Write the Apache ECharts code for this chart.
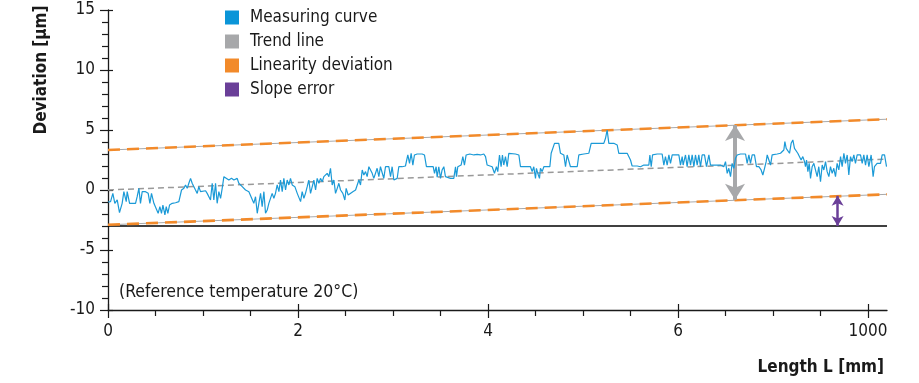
<!DOCTYPE html>
<html>
<head>
<meta charset="utf-8">
<script src="https://cdn.jsdelivr.net/npm/echarts@6/dist/echarts.min.js"></script>
<style>
  html, body { margin: 0; padding: 0; background: #fff; }
  #chart { width: 919px; height: 383px; }
</style>
</head>
<body>
<div id="chart"></div>
<script>
const FONT = '"Liberation Sans Narrow", "DejaVu Sans Condensed", "Noto Sans", sans-serif';

const xTickValues = [0, 2, 4, 6, 8];
const xTickLabels = ['0', '2', '4', '6', '1000'];
const xMinorTicks = [0.5, 1, 1.5, 2.5, 3, 3.5, 4.5, 5, 5.5, 6.5, 7, 7.5];
const legendNames = ['Measuring curve', 'Trend line', 'Linearity deviation', 'Slope error'];

const trendLine = [[0, 0], [8.2, 2.58]];
const upperLimit = [[0, 3.33], [8.2, 5.9]];
const lowerLimit = [[0, -2.9], [8.2, -0.36]];
const baseLine = [[0, -3], [8.2, -3]];
const linearityArrow = [[6.6, 5.41], [6.6, -0.82]];
const slopeArrow = [[7.68, -0.48], [7.68, -3]];

const measuringCurve = [
  [0, -1.0], [0.009, -1.11], [0.027, -0.97], [0.051, -0.28], [0.072, -1.11], [0.097, -0.83], [0.121, -1.89],
  [0.149, -1.11], [0.167, -0.14], [0.192, -0.97], [0.202, -0.14], [0.227, -1.11], [0.29, -1.11], [0.307, -0.56],
  [0.325, 0.14], [0.342, -1.11], [0.36, -0.14], [0.377, -0.28], [0.395, -0.14], [0.423, -0.28], [0.441, -1.11],
  [0.458, -0.28], [0.483, -1.11], [0.5, -1.11], [0.528, -1.94], [0.546, -1.39], [0.563, -1.94], [0.578, -1.25],
  [0.599, -2.08], [0.613, -1.39], [0.63, -1.94], [0.648, -1.25], [0.676, -1.11], [0.711, -1.06], [0.746, -0.97],
  [0.774, 0.0], [0.799, 0.14], [0.816, 0.42], [0.834, 0.14], [0.851, 0.56], [0.869, 0.97], [0.886, 0.56],
  [0.904, 0.42], [0.921, 0.0], [0.939, -0.28], [0.956, 0.28], [0.974, -0.14], [1.027, -0.06], [1.044, -0.28],
  [1.062, -0.14], [1.079, -0.83], [1.097, 0.56], [1.114, -0.83], [1.132, 0.56], [1.149, -1.11], [1.167, -0.14],
  [1.185, -0.69], [1.202, 0.14], [1.22, 1.11], [1.237, 0.97], [1.272, 0.83], [1.3, 0.97], [1.325, 0.83],
  [1.36, 0.97], [1.377, 0.56], [1.395, 0.69], [1.413, 0.28], [1.43, 0.42], [1.448, 0.0], [1.483, -0.14],
  [1.5, -0.14], [1.535, -1.11], [1.553, -0.56], [1.571, -1.94], [1.588, -1.11], [1.606, -0.28], [1.623, -1.39],
  [1.641, -0.14], [1.658, -1.94], [1.676, -1.67], [1.693, -1.11], [1.728, -0.28], [1.746, -0.69], [1.763, -0.28],
  [1.781, 0.42], [1.799, -0.14], [1.816, 0.83], [1.834, -0.14], [1.851, 0.97], [1.869, 0.0], [1.886, 0.83],
  [1.904, 0.42], [1.921, 0.97], [1.939, 0.42], [1.967, 0.28], [1.992, -0.28], [2.009, -0.14], [2.027, -0.97],
  [2.044, -0.14], [2.062, -0.69], [2.079, -0.28], [2.097, 0.28], [2.114, 0.83], [2.132, -0.28], [2.149, -0.14],
  [2.167, 0.83], [2.185, 0.0], [2.202, 0.97], [2.22, 0.56], [2.237, 0.97], [2.255, 0.69], [2.272, 1.11],
  [2.29, 0.97], [2.307, 1.39], [2.325, 1.11], [2.342, 1.81], [2.36, 0.42], [2.378, 0.83], [2.395, -0.28],
  [2.413, 0.14], [2.43, 0.56], [2.448, 0.0], [2.472, -0.28], [2.493, -0.83], [2.507, 0.14], [2.528, -0.42],
  [2.577, -0.14], [2.606, 0.0], [2.623, 0.14], [2.641, 0.83], [2.658, 0.42], [2.676, 1.67], [2.693, 1.25],
  [2.711, 1.53], [2.728, 1.11], [2.746, 1.94], [2.781, 1.39], [2.798, 0.97],
  [2.816, 1.11], [2.833, 1.81], [2.851, 1.11], [2.868, 1.94], [2.886, 1.81], [2.903, 0.97], [2.921, 1.94],
  [2.938, 1.81], [2.956, 1.94], [2.974, 1.11], [2.991, 1.94], [3.009, 0.83], [3.026, 0.97], [3.044, 0.97],
  [3.061, 1.94], [3.096, 1.94], [3.131, 2.0], [3.156, 2.92], [3.174, 2.22], [3.191, 3.06], [3.209, 2.08],
  [3.226, 2.92], [3.254, 3.0], [3.307, 3.0], [3.331, 2.92], [3.352, 1.94], [3.395, 1.94], [3.423, 1.94],
  [3.437, 1.39], [3.454, 1.94], [3.465, 1.06], [3.482, 1.94], [3.5, 0.97], [3.517, 1.67], [3.535, 1.94],
  [3.552, 1.11], [3.57, 0.97], [3.605, 0.97], [3.64, 0.97], [3.658, 1.94], [3.668, 1.11], [3.682, 1.94],
  [3.7, 1.94], [3.717, 2.08], [3.735, 2.78], [3.752, 2.08], [3.77, 2.92], [3.788, 2.78], [3.809, 3.0],
  [3.851, 2.92], [3.886, 2.97], [3.921, 2.92], [3.956, 3.0], [3.974, 2.78], [3.991, 2.08], [4.009, 1.94],
  [4.044, 1.94], [4.068, 1.39], [4.089, 1.94], [4.103, 1.53], [4.121, 2.92], [4.138, 1.94], [4.152, 2.92],
  [4.166, 2.08], [4.184, 2.78], [4.202, 1.94], [4.219, 3.06], [4.237, 3.0], [4.289, 3.0], [4.325, 2.92],
  [4.342, 1.94], [4.412, 1.94], [4.447, 1.94], [4.465, 1.53], [4.482, 1.94], [4.5, 0.97], [4.51, 1.81],
  [4.524, 1.39], [4.542, 0.97], [4.552, 1.81], [4.57, 1.53], [4.588, 1.94], [4.623, 1.94], [4.651, 1.94],
  [4.665, 3.06], [4.686, 3.06], [4.7, 3.89], [4.721, 4.03], [4.745, 3.89], [4.763, 3.06], [4.781, 3.06],
  [4.798, 2.92], [4.816, 1.94], [4.833, 2.92], [4.851, 2.78], [4.868, 1.94], [4.903, 1.94], [4.939, 1.94],
  [4.956, 2.92], [4.974, 2.97], [5.009, 3.0], [5.061, 3.06], [5.086, 3.89], [5.121, 3.89], [5.184, 3.89],
  [5.219, 3.89], [5.237, 4.31], [5.254, 5.0], [5.272, 3.89], [5.324, 3.89], [5.36, 3.75], [5.377, 3.06],
  [5.412, 3.06], [5.465, 3.06], [5.482, 3.0], [5.5, 2.5], [5.517, 2.0], [5.57, 2.0], [5.605, 1.94],
  [5.64, 2.08], [5.658, 2.22], [5.693, 2.08], [5.704, 2.92], [5.718, 1.94], [5.732, 2.92], [5.746, 3.06],
  [5.781, 3.0], [5.833, 3.0], [5.851, 2.08], [5.868, 2.78], [5.886, 2.08], [5.904, 2.92], [5.921, 2.22],
  [5.939, 2.92], [6.009, 2.92], [6.026, 2.08], [6.044, 2.78], [6.054, 2.08], [6.079, 2.92], [6.096, 1.94],
  [6.114, 2.92], [6.132, 2.08], [6.149, 2.92], [6.167, 1.94], [6.184, 2.92], [6.202, 2.08], [6.219, 2.92],
  [6.237, 1.94], [6.254, 2.92], [6.279, 2.92], [6.3, 1.94], [6.325, 2.92], [6.342, 2.08], [6.377, 2.08],
  [6.447, 2.08], [6.482, 1.94], [6.5, 2.36], [6.518, 1.39], [6.535, 1.81], [6.553, 1.11], [6.57, 2.22],
  [6.588, 1.81], [6.605, 2.64], [6.623, 2.92], [6.658, 3.0], [6.711, 3.0], [6.728, 2.22], [6.746, 2.92],
  [6.763, 2.22], [6.781, 2.92], [6.805, 2.92], [6.826, 1.94], [6.851, 1.94], [6.875, 1.67], [6.893, 1.25],
  [6.911, 1.81], [6.928, 2.36], [6.939, 2.92], [6.956, 3.06], [6.974, 2.08], [6.991, 2.92], [7.009, 3.0],
  [7.044, 3.0], [7.079, 3.06], [7.114, 3.33], [7.125, 4.03], [7.139, 3.47], [7.156, 3.61], [7.174, 3.06],
  [7.191, 3.89], [7.209, 4.17], [7.226, 3.47], [7.244, 3.61], [7.261, 3.06], [7.279, 3.19], [7.296, 2.5],
  [7.314, 2.78], [7.332, 2.36], [7.342, 1.94], [7.353, 2.5], [7.367, 1.53], [7.381, 2.22], [7.395, 0.97],
  [7.412, 1.94], [7.43, 2.22], [7.447, 2.08], [7.465, 1.11], [7.482, 1.94], [7.5, 0.69], [7.518, 2.08],
  [7.535, 1.67], [7.553, 2.36], [7.57, 1.53], [7.588, 1.11], [7.605, 1.94], [7.623, 1.39], [7.64, 1.81],
  [7.658, 1.11], [7.675, 2.22], [7.693, 1.67], [7.711, 2.78], [7.728, 1.94], [7.746, 3.06], [7.763, 2.22],
  [7.781, 2.92], [7.798, 1.25], [7.816, 2.78], [7.833, 2.36], [7.851, 2.92], [7.868, 2.22], [7.886, 2.92],
  [7.921, 2.92], [7.939, 2.22], [7.956, 2.92], [7.974, 2.08], [7.991, 2.92], [8.009, 1.94], [8.033, 2.92],
  [8.054, 1.11], [8.068, 1.94], [8.096, 2.22], [8.132, 2.22], [8.149, 2.92], [8.174, 2.92], [8.195, 1.94]
];

const blue = '#1b9ad7';
const grey = '#a7a8aa';
const orange = '#f28a2a';
const purple = '#6a3f98';
const ink = '#1a1a1a';

const chart = echarts.init(document.getElementById('chart'), null, { renderer: 'canvas' });

const axisLine = { show: true, onZero: false, lineStyle: { color: ink, width: 1.3 } };
const noLine = { show: false, onZero: false };

// orange dashes sit on a thin grey line
function limitSeries(data) {
  return [
    {
      type: 'line', name: 'limitBase', data: data, symbol: 'none', silent: true,
      lineStyle: { color: grey, width: 1 }, z: 3
    },
    {
      type: 'line', name: 'Linearity deviation', data: data, symbol: 'none', silent: true,
      color: orange,
      lineStyle: { color: orange, width: 2.6, type: [12, 7] }, z: 4
    }
  ];
}

const option = {
  animation: false,
  grid: { left: 108, right: 32, top: 10, bottom: 73, containLabel: false },
  legend: {
    orient: 'vertical',
    left: 220,
    top: 4,
    itemWidth: 14,
    itemHeight: 14,
    itemGap: 7,
    icon: 'rect',
    selectedMode: false,
    textStyle: { fontFamily: FONT, fontSize: 17, color: ink, padding: [0, 0, 0, 6] },
    data: [
      { name: legendNames[0], itemStyle: { color: '#0a95d8' } },
      { name: legendNames[1], itemStyle: { color: grey } },
      { name: legendNames[2], itemStyle: { color: orange } },
      { name: legendNames[3], itemStyle: { color: purple } }
    ]
  },
  xAxis: [
    {
      type: 'value', min: 0, max: 8.2,
      axisLine: axisLine,
      splitLine: { show: false },
      axisTick: { show: true, length: 8, customValues: xTickValues, lineStyle: { color: ink, width: 1.2 } },
      axisLabel: {
        customValues: xTickValues, margin: 13,
        fontFamily: FONT, fontSize: 17, color: ink,
        formatter: v => xTickLabels[xTickValues.indexOf(v)]
      }
    },
    {
      type: 'value', min: 0, max: 8.2, position: 'bottom',
      axisLine: noLine, splitLine: { show: false }, axisLabel: { show: false },
      axisTick: { show: true, length: 6, customValues: xMinorTicks, lineStyle: { color: ink, width: 1.2 } }
    },
    {
      type: 'value', min: 0, max: 8.2, position: 'bottom',
      axisLine: noLine, splitLine: { show: false }, axisLabel: { show: false },
      axisTick: { show: true, inside: true, length: 6, customValues: xTickValues, lineStyle: { color: ink, width: 1.2 } }
    }
  ],
  yAxis: [
    {
      type: 'value', min: -10, max: 15, interval: 5,
      axisLine: axisLine,
      splitLine: { show: false },
      axisTick: { show: true, length: 8, lineStyle: { color: ink, width: 1.2 } },
      minorTick: { show: true, splitNumber: 5, length: 6, lineStyle: { color: ink, width: 1.2 } },
      axisLabel: { margin: 13, fontFamily: FONT, fontSize: 17, color: ink }
    },
    {
      type: 'value', min: -10, max: 15, interval: 5, position: 'left',
      axisLine: noLine, splitLine: { show: false }, axisLabel: { show: false },
      axisTick: { show: true, inside: true, length: 5, lineStyle: { color: ink, width: 1.2 } }
    }
  ],
  graphic: [
    {
      type: 'text', x: 42, y: 70, rotation: Math.PI / 2,
      style: {
        text: 'Deviation [µm]', fontFamily: FONT, fontSize: 17, fontWeight: 'bold',
        fill: ink, align: 'center', verticalAlign: 'middle'
      }
    },
    {
      type: 'text', x: 884, y: 368,
      style: {
        text: 'Length L [mm]', fontFamily: FONT, fontSize: 17, fontWeight: 'bold',
        fill: ink, align: 'right', verticalAlign: 'middle'
      }
    },
    {
      type: 'text', x: 119, y: 292,
      style: {
        text: '(Reference temperature 20°C)', fontFamily: FONT, fontSize: 17.5,
        fill: ink, align: 'left', verticalAlign: 'middle'
      }
    }
  ],
  series: [
    {
      type: 'line', name: 'base', data: baseLine, symbol: 'none', silent: true,
      lineStyle: { color: '#000', width: 1.5 }, z: 2
    },
    {
      type: 'line', name: 'Trend line', data: trendLine, symbol: 'none', silent: true,
      color: grey,
      lineStyle: { color: '#999', width: 1.5, type: [6, 4] }, z: 3,
      markLine: {
        silent: true, symbol: ['arrow', 'arrow'], symbolSize: [15, 16],
        label: { show: false },
        lineStyle: { color: grey, width: 4, type: 'solid' },
        data: [[{ coord: linearityArrow[0] }, { coord: linearityArrow[1] }]]
      }
    },
    ...limitSeries(upperLimit),
    ...limitSeries(lowerLimit),
    {
      type: 'line', name: 'Measuring curve', data: measuringCurve, symbol: 'none', silent: true,
      color: blue,
      lineStyle: { color: blue, width: 1.2 }, z: 5
    },
    {
      type: 'line', name: 'Slope error', data: [], symbol: 'none', silent: true,
      color: purple,
      markLine: {
        silent: true, symbol: ['arrow', 'arrow'], symbolSize: [9, 10],
        label: { show: false },
        lineStyle: { color: purple, width: 2.5, type: 'solid' },
        data: [[{ coord: slopeArrow[0] }, { coord: slopeArrow[1] }]]
      }
    }
  ]
};

chart.setOption(option);
</script>
</body>
</html>
